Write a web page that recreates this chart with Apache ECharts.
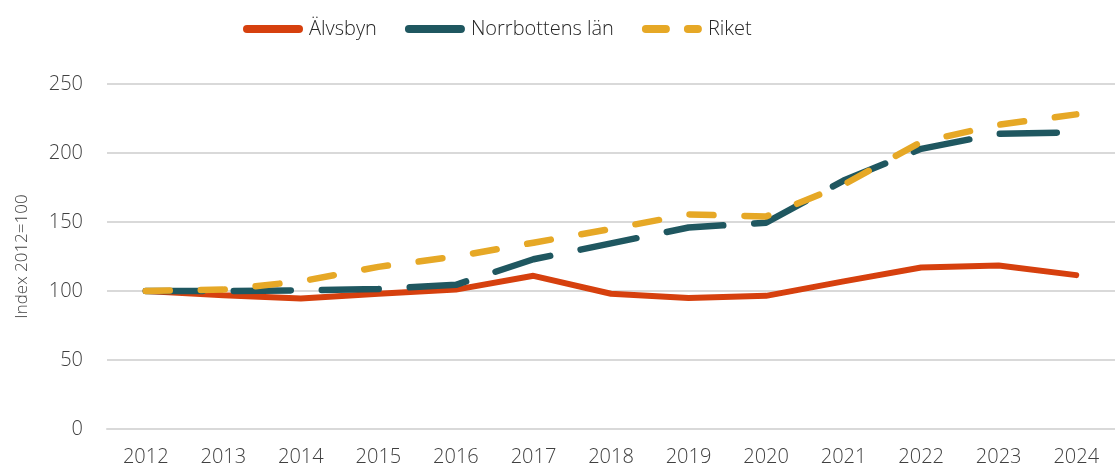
<!DOCTYPE html>
<html>
<head>
<meta charset="utf-8">
<script src="https://cdn.jsdelivr.net/npm/echarts@6/dist/echarts.min.js"></script>
<style>
  html, body { margin: 0; padding: 0; background: #fff; }
  #chart { width: 1115px; height: 470px; }
</style>
</head>
<body>
<div id="chart"></div>
<script>
// data
const years = ['2012', '2013', '2014', '2015', '2016', '2017', '2018', '2019', '2020', '2021', '2022', '2023', '2024'];
const alvsbyn = [100, 97, 94.5, 98, 101, 111, 98, 95, 96.5, 107, 117, 118.5, 111.5];
const norrbotten = [100, 100, 100.5, 101.5, 104.5, 123, 134.5, 146, 149.5, 180, 203, 214, 215];
const riket = [100, 101, 107, 117.5, 125, 135, 145, 155.5, 154, 177, 208, 220.5, 228];

const font = 'Open Sans';

// legend icons: solid bars, and two short dashes for Riket
const barIcon = 'path://M4,0 H56 A4,4 0 0 1 56,8 H4 A4,4 0 0 1 4,0 Z';
const dashIcon = 'path://M4,0 H24 A4,4 0 0 1 24,8 H4 A4,4 0 0 1 4,0 Z M46,0 H56 A4,4 0 0 1 56,8 H46 A4,4 0 0 1 46,0 Z';

const chart = echarts.init(document.getElementById('chart'));

const option = {
  animation: false,
  textStyle: { fontFamily: font },
  legend: {
    top: 14,
    left: 238,
    itemWidth: 62,
    itemHeight: 8,
    itemGap: 28,
    textStyle: { fontSize: 20, color: '#262626', fontFamily: font, fontWeight: 300 },
    data: [
      { name: 'Älvsbyn', icon: barIcon },
      { name: 'Norrbottens län', icon: barIcon },
      { name: 'Riket', icon: dashIcon }
    ]
  },
  grid: {
    left: 107,
    top: 84,
    width: 1019,
    height: 345
  },
  xAxis: {
    type: 'category',
    data: years,
    boundaryGap: true,
    axisTick: { show: false },
    axisLine: { lineStyle: { color: '#d9d9d9', width: 2 } },
    axisLabel: { fontSize: 20, color: '#404040', margin: 18, fontWeight: 300 }
  },
  yAxis: {
    type: 'value',
    min: 0,
    max: 250,
    interval: 50,
    name: 'Index 2012=100',
    nameLocation: 'middle',
    nameGap: 76,
    nameTextStyle: { fontSize: 17, color: '#404040', fontWeight: 300 },
    axisLabel: { fontSize: 20, color: '#404040', margin: 24, fontWeight: 300 },
    splitLine: { lineStyle: { color: '#d9d9d9', width: 2 } }
  },
  series: [
    {
      name: 'Älvsbyn',
      type: 'line',
      data: alvsbyn,
      symbol: 'none',
      z: 2,
      color: '#d6400e',
      lineStyle: { width: 6, color: '#d6400e', cap: 'round' }
    },
    {
      name: 'Norrbottens län',
      type: 'line',
      data: norrbotten,
      symbol: 'none',
      z: 3,
      color: '#1f5760',
      lineStyle: { width: 6.5, color: '#1f5760', type: [57, 31], cap: 'round' }
    },
    {
      name: 'Riket',
      type: 'line',
      data: riket,
      symbol: 'none',
      z: 4,
      color: '#e6a826',
      lineStyle: { width: 6.5, color: '#e6a826', type: [24, 31], cap: 'round' }
    }
  ]
};

chart.setOption(option);
</script>
</body>
</html>
